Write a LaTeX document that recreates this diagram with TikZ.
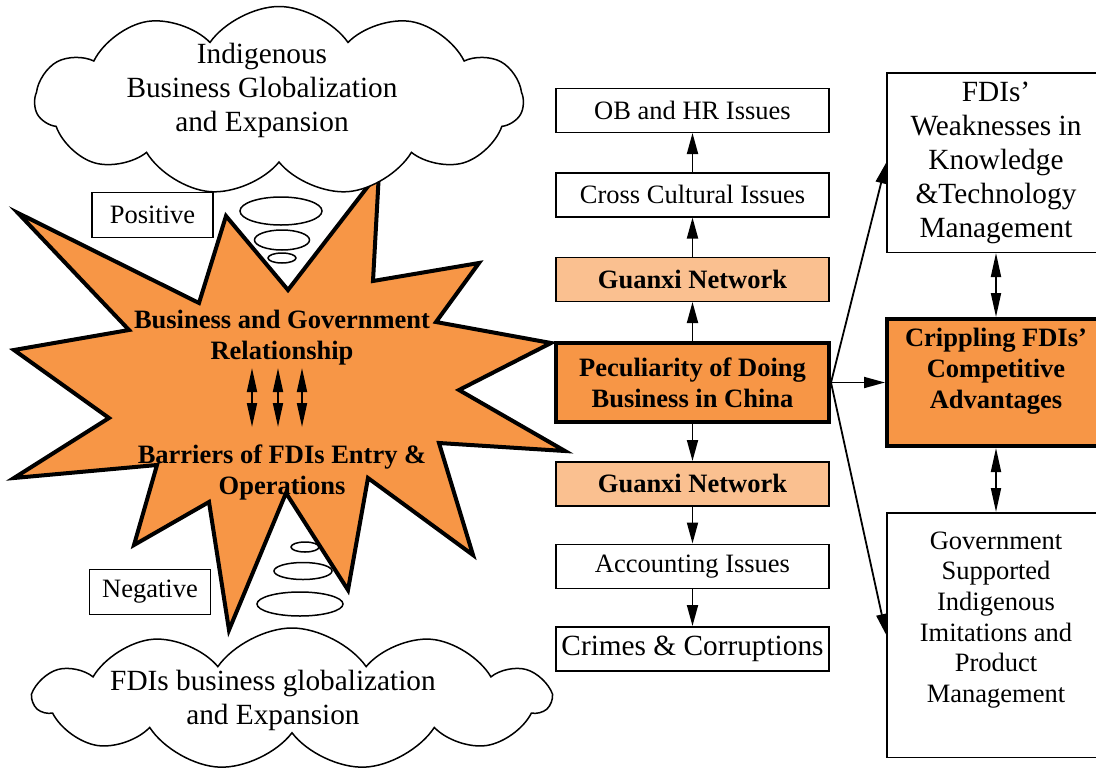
\documentclass[tikz,border=0pt]{standalone}
\usepackage{fontspec}
\setmainfont{Liberation Serif}
\usetikzlibrary{positioning,shapes.symbols,arrows.meta}
\definecolor{fdiorange}{HTML}{F79646}
\definecolor{fdilight}{HTML}{FAC090}
\begin{document}
\begin{tikzpicture}[x=1pt,y=-1pt,
    txt/.style={font=\fontsize{26.5pt}{30pt}\selectfont,align=center},
    bigtxt/.style={font=\fontsize{29.3pt}{34pt}\selectfont,align=center},
    boldtxt/.style={font=\fontsize{26.5pt}{31pt}\selectfont\bfseries,align=center},
    issue/.style={txt,draw,line width=1.5pt,fill=white,minimum width=273pt,minimum height=44pt,inner sep=0pt},
    guanxi/.style={issue,boldtxt,fill=fdilight},
    core/.style={issue,boldtxt,line width=4pt,fill=fdiorange},
    side/.style={draw,line width=1.5pt,fill=white,minimum width=218pt,inner sep=0pt},
    bubble/.style={cloud,draw,line width=1.5pt,fill=white,cloud puffs=11,cloud puff arc=110},
    arr/.style={line width=1.8pt,-{Triangle[length=21pt,width=11pt]}},
    dblarr/.style={line width=1.8pt,{Triangle[length=24pt,width=10pt]}-{Triangle[length=24pt,width=10pt]}},
    thought/.style={draw,line width=1.5pt}]
        \useasboundingbox (0,0) rectangle (1096,772);
        %% Star
        \draw[line width=4pt,fill=fdiorange] (18,213) -- (199,303) -- (226,216) -- (288,290) -- (379,172) -- (373,281)
            -- (479,263) -- (436,322) -- (551,343) -- (459,390) -- (565,451) -- (439,443) -- (473,555) -- (368,478)
            -- (348,590) -- (286,493) -- (229,630) -- (209,502) -- (134,545) -- (157,465) -- (14,478) -- (109,418)
            -- (14,350) -- (129,330) -- cycle;
        \node[boldtxt] (rel) at (282,338) {Business and Government\\Relationship};
        \node[boldtxt] (bar) at (282,472) {Barriers of FDIs Entry \&\\Operations};
        \foreach \x in {252,278,302}
            \draw[dblarr] (\x,368) -- (\x,427);
        %% Clouds
        \node[bubble,minimum width=488pt,minimum height=189pt] (upcloud) at (279,101) {};
        \node[bigtxt] (uptxt) at (262,90) {Indigenous\\Business Globalization\\and Expansion};
        \node[bubble,minimum width=515pt,minimum height=142pt] (lowcloud) at (292,699) {};
        \node[bigtxt] (lowtxt) at (273,700) {FDIs business globalization\\and Expansion};
        \foreach \cx/\cy/\rx/\ry in {281/211/41/14,282/240/27.5/10,282/258/14/5,305/547/14/5,303/571/29/8.5,300/604/43/12}
            \draw[thought] (\cx,\cy) ellipse [x radius=\rx,y radius=\ry];
        \node[txt,draw,line width=1.2pt,minimum width=121pt,minimum height=45pt] (pos) at (152.5,215) {Positive};
        \node[txt,draw,line width=1.2pt,minimum width=121pt,minimum height=45pt] (neg) at (150,592) {Negative};
        %% Middle column
        \node[core,minimum height=79pt] (pec) at (692.5,382.5) {Peculiarity of Doing\\Business in China};
        \node[guanxi,above=39pt of pec] (gxup) {Guanxi Network};
        \node[issue,above=39pt of gxup] (cross) {Cross Cultural Issues};
        \node[issue,above=39pt of cross] (obhr) {OB and HR Issues};
        \node[guanxi,below=37pt of pec] (gxdown) {Guanxi Network};
        \node[issue,below=37pt of gxdown] (acc) {Accounting Issues};
        \node[issue,bigtxt,below=37pt of acc] (crime) {Crimes \& Corruptions};
        \draw[arr] (pec) -- (gxup);
        \draw[arr] (gxup) -- (cross);
        \draw[arr] (cross) -- (obhr);
        \draw[arr] (pec) -- (gxdown);
        \draw[arr] (gxdown) -- (acc);
        \draw[arr] (acc) -- (crime);
        %% Right column
        \node[side,line width=4pt,fill=fdiorange,minimum height=127pt] (crip) at (996,382.5) {};
        \node[boldtxt] (criptxt) at ([yshift=11pt]crip.center) {Crippling FDIs'\\Competitive\\Advantages};
        \node[side,bigtxt,minimum height=179.5pt,above=64pt of crip] (fdi) {FDIs'\\Weaknesses in\\Knowledge\\\&Technology\\Management};
        \node[side,minimum height=244.5pt,below=64pt of crip] (gov) {};
        \node[txt,font=\fontsize{26.5pt}{30.7pt}\selectfont] (govtxt) at ([yshift=15pt]gov.center) {Government\\Supported\\Indigenous\\Imitations and\\Product\\Management};
        \draw[arr] (pec.east) -- (fdi.west);
        \draw[arr] (pec.east) -- (crip.west);
        \draw[arr] (pec.east) -- (gov.west);
        \draw[dblarr] (fdi) -- (crip);
        \draw[dblarr] (crip) -- (gov);
\end{tikzpicture}
\end{document}
